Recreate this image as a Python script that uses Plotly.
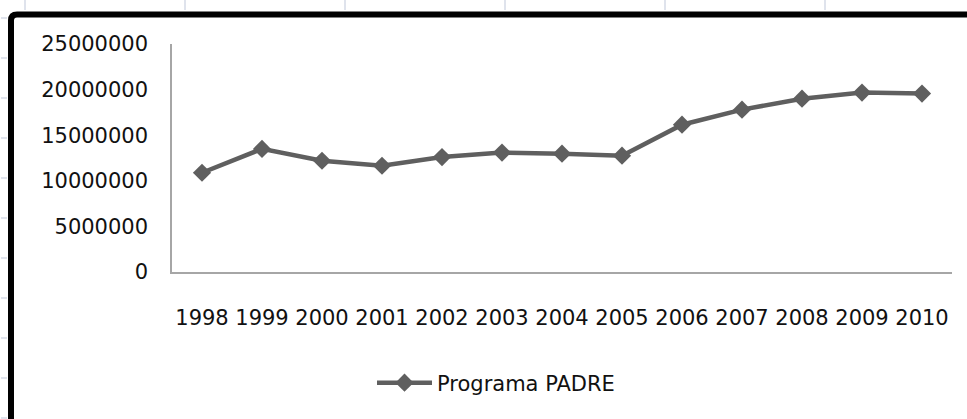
import plotly.graph_objects as go

years = ["1998", "1999", "2000", "2001", "2002", "2003", "2004",
         "2005", "2006", "2007", "2008", "2009", "2010"]
padre = [10880000, 13500000, 12200000, 11650000, 12600000, 13100000, 12970000,
         12750000, 16150000, 17800000, 19000000, 19670000, 19560000]
y_ticks = [0, 5000000, 10000000, 15000000, 20000000, 25000000]
series_name = "Programa PADRE"

W, H = 967, 419
L, R, T, B = 172, 15, 44, 147
PW, PH = W - L - R, H - T - B

def px_x(p):
    return (p - L) / PW

def px_y(p):
    return (H - B - p) / PH

fig = go.Figure()
fig.add_trace(go.Scatter(
    x=years, y=padre, mode="lines+markers", name=series_name,
    line=dict(color="#5f5f5f", width=4.5),
    marker=dict(symbol="diamond", size=14, color="#5f5f5f"),
))

shapes = []
# sheet gridline stubs
for xp in [25, 185, 345, 505, 665, 825]:
    shapes.append(dict(type="line", xref="paper", yref="paper",
                       x0=px_x(xp), x1=px_x(xp), y0=px_y(0), y1=px_y(10),
                       line=dict(color="#d4dae6", width=1.5)))
for yp in [18, 58, 98, 138, 178, 218, 258, 298, 338, 378, 418]:
    shapes.append(dict(type="line", xref="paper", yref="paper",
                       x0=px_x(1), x1=px_x(7), y0=px_y(yp), y1=px_y(yp),
                       line=dict(color="#d4dae6", width=1.5)))
# thick chart border
bx, by, rr = 11, 14.5, 6
path = (f"M{px_x(bx)},{px_y(430)} L{px_x(bx)},{px_y(by + rr)} "
        f"Q{px_x(bx)},{px_y(by)} {px_x(bx + rr)},{px_y(by)} L{px_x(990)},{px_y(by)}")
shapes.append(dict(type="path", xref="paper", yref="paper", path=path,
                   line=dict(color="#000000", width=6)))

fig.update_layout(
    width=W, height=H,
    margin=dict(l=L, r=R, t=T, b=B),
    paper_bgcolor="white", plot_bgcolor="white",
    font=dict(family="DejaVu Sans", size=21, color="#111111"),
    showlegend=True,
    legend=dict(orientation="h", x=px_x(372), y=px_y(383), xanchor="left",
                yanchor="middle", font=dict(size=21), itemwidth=55,
                bgcolor="rgba(0,0,0,0)"),
    shapes=shapes,
    xaxis=dict(type="category", range=[-0.5, 12.5], showgrid=False, zeroline=False,
               showline=True, linecolor="#a6a6a6", linewidth=1.5,
               ticks="", ticklabelstandoff=26, tickfont=dict(size=21)),
    yaxis=dict(range=[0, 25000000], tickvals=y_ticks,
               ticktext=[str(v) for v in y_ticks],
               showgrid=False, zeroline=False, showline=True,
               linecolor="#a6a6a6", linewidth=1.5, ticks="",
               ticklabelstandoff=18, tickfont=dict(size=21)),
)
fig.write_html("out.html", config={"displayModeBar": False},
               post_script="document.body.style.margin='0';document.body.style.overflow='hidden';")
